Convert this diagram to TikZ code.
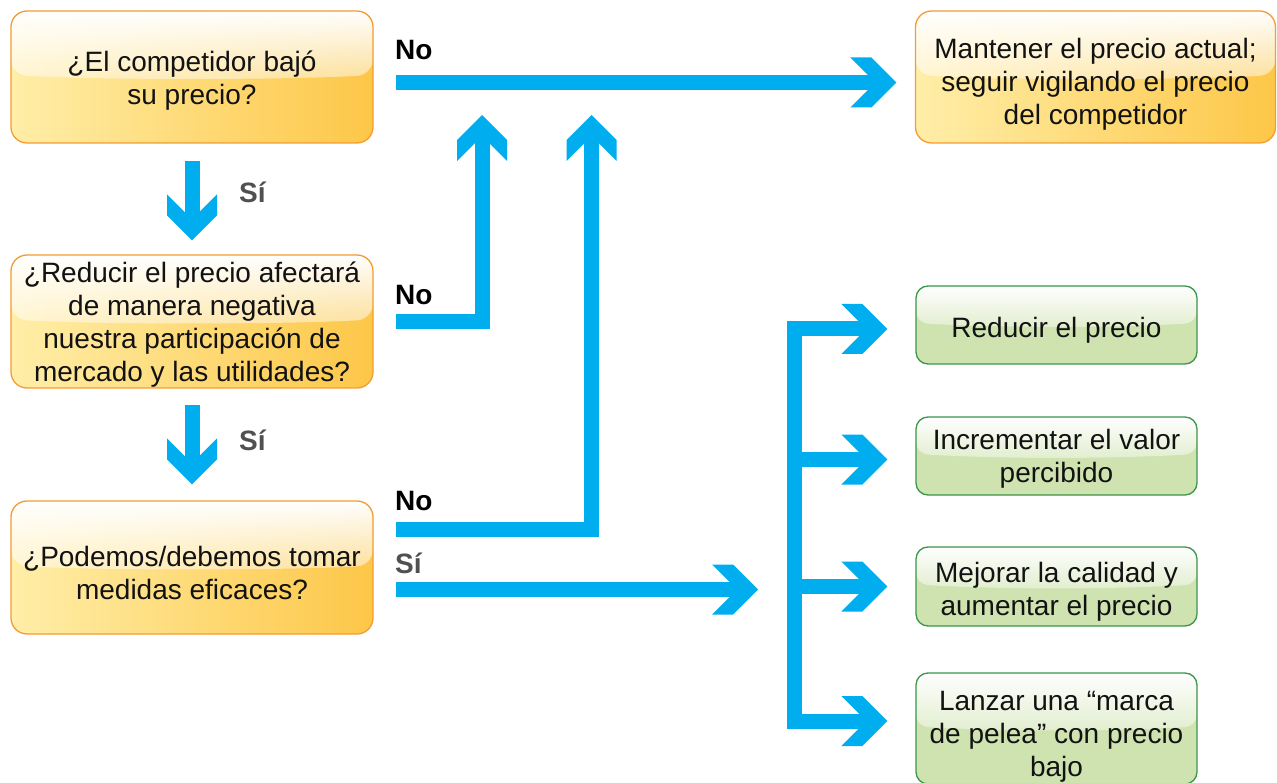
\documentclass[tikz,border=0pt]{standalone}
\usepackage{fontspec}
\setmainfont{Liberation Sans}
\usetikzlibrary{arrows.meta,calc,fadings}

\definecolor{flow}{RGB}{0,174,239}
\definecolor{oborder}{RGB}{244,156,48}
\definecolor{olight}{RGB}{255,238,168}
\definecolor{odark}{RGB}{253,199,72}
\definecolor{gborder}{RGB}{58,150,72}
\definecolor{gfill}{RGB}{207,227,176}
\definecolor{sigray}{RGB}{80,80,80}

% Broad chevron head for the thick flow lines
\pgfdeclarearrow{
  name = Chevron,
  setup code = {
    \pgfarrowssettipend{0pt}
    \pgfarrowssetlineend{-20pt}
    \pgfarrowssetbackend{-46pt}
    \pgfarrowssetvisualbackend{-46pt}
    \pgfarrowshullpoint{0pt}{0pt}
    \pgfarrowshullpoint{-46pt}{25pt}
    \pgfarrowshullpoint{-46pt}{-25pt}
  },
  drawing code = {
    \pgfpathmoveto{\pgfqpoint{0pt}{0pt}}
    \pgfpathlineto{\pgfqpoint{-25pt}{25pt}}
    \pgfpathlineto{\pgfqpoint{-46pt}{25pt}}
    \pgfpathlineto{\pgfqpoint{-21pt}{0pt}}
    \pgfpathlineto{\pgfqpoint{-46pt}{-25pt}}
    \pgfpathlineto{\pgfqpoint{-25pt}{-25pt}}
    \pgfpathclose
    \pgfusepathqfill
  }
}

% glossy upper half of a box
\newcommand\glosspath{%
  (path picture bounding box.north west) -- (path picture bounding box.north east)
  -- ([yshift=2pt]path picture bounding box.east)
  .. controls ([xshift=-90pt,yshift=-3pt]path picture bounding box.east)
     and ([xshift=90pt,yshift=-3pt]path picture bounding box.west) ..
  ([yshift=2pt]path picture bounding box.west) -- cycle}

\tikzset{
  gloss/.style={path picture={
    \fill[white, fill opacity=#1] \glosspath;
    \fill[white, path fading=south] \glosspath;
  }},
  boxtext/.style={align=center, inner sep=0pt, text=black!93,
    font=\fontsize{28}{33}\selectfont},
  obox/.style={draw=oborder, line width=1.3pt, rounded corners=16pt,
    left color=olight, right color=odark, gloss=0.45,
    minimum width=362pt, minimum height=132pt},
  gbox/.style={draw=gborder, line width=1.3pt, rounded corners=12pt,
    fill=gfill, gloss=0.4, minimum width=281pt, minimum height=78pt},
  flowline/.style={color=flow, line width=15pt, line join=miter, arrows={-Chevron}},
  lab/.style={anchor=base west, inner sep=0pt,
    font=\fontsize{28}{33}\selectfont\bfseries},
}

\begin{document}
\begin{tikzpicture}[x=1pt,y=-1pt]
\useasboundingbox (0,0) rectangle (1277,783);

% decision boxes
\node[obox] (q1) at (192,77) {};
\node[obox, minimum height=133pt] (q2) at (192,321.5) {};
\node[obox, minimum height=133pt] (q3) at (192,567.5) {};
\node[obox, minimum width=360pt] (keep) at (1095.5,77) {};

\node[boxtext] (q1t) at ([yshift=-4pt]q1.center) {¿El competidor bajó\\su precio?};
\node[boxtext] (q2t) at ([yshift=-3pt]q2.center)
  {¿Reducir el precio afectará\\de manera negativa\\nuestra participación de\\mercado y las utilidades?};
\node[boxtext] (q3t) at ([yshift=-5pt]q3.center) {¿Podemos/debemos tomar\\medidas eficaces?};
\node[boxtext] (keept) at ([yshift=-7pt]keep.center)
  {Mantener el precio actual;\\seguir vigilando el precio\\del competidor};

% response boxes
\node[gbox] (g1) at (1056.5,325) {};
\node[gbox] (g2) at (1056.5,456) {};
\node[gbox, minimum height=79pt] (g3) at (1056.5,586.5) {};
\node[gbox, minimum height=111pt] (g4) at (1056.5,728.5) {};

\node[boxtext] (g1t) at ([yshift=-5pt]g1.center) {Reducir el precio};
\node[boxtext] (g2t) at ([yshift=-3pt]g2.center) {Incrementar el valor\\percibido};
\node[boxtext] (g3t) at ([yshift=-5.5pt]g3.center) {Mejorar la calidad y\\aumentar el precio};
\node[boxtext] (g4t) at ([yshift=-8pt]g4.center) {Lanzar una “marca\\de pelea” con precio\\bajo};

% labels
\node[lab] (no1) at (395,60) {No};
\node[lab] (no2) at (395,305) {No};
\node[lab] (no3) at (395,510) {No};
\node[lab, text=sigray] (si1) at (239,203) {Sí};
\node[lab, text=sigray] (si2) at (239,450) {Sí};
\node[lab, text=sigray] (si3) at (395,573) {Sí};

% free ends
\coordinate (up1) at (482,115);
\coordinate (up2) at (591.5,115);
\coordinate (sitip) at (758,589.5);
\coordinate (trunk) at (794,500);
\coordinate (t1) at ([xshift=-28pt,yshift=-4pt]g1.west);
\coordinate (t2) at ([xshift=-28pt,yshift=-3.5pt]g2.west);
\coordinate (t3) at ([xshift=-28pt]g3.west);
\coordinate (t4) at ([xshift=-28pt,yshift=7.5pt]g4.west);

% flow
\draw[flowline] ([yshift=-17pt]q1.south) -- ([yshift=14pt]q2.north);
\draw[flowline] ([yshift=-16pt]q2.south) -- ([yshift=16pt]q3.north);
\draw[flowline] ([xshift=22pt,yshift=-5.5pt]q1.east) -- ([xshift=-18.5pt,yshift=-5.5pt]keep.west);
\draw[flowline] ([xshift=22pt]q2.east) -| (up1);
\draw[flowline] ([xshift=22pt,yshift=38pt]q3.east) -| (up2);
\draw[flowline] ([xshift=22pt,yshift=-22pt]q3.east) -- (sitip);

% branching to the responses
\draw[flowline, arrows={Chevron-Chevron}] (t1) -| (trunk) |- (t4);
\draw[flowline] (trunk |- t2) -- (t2);
\draw[flowline] (trunk |- t3) -- (t3);
\end{tikzpicture}
\end{document}
